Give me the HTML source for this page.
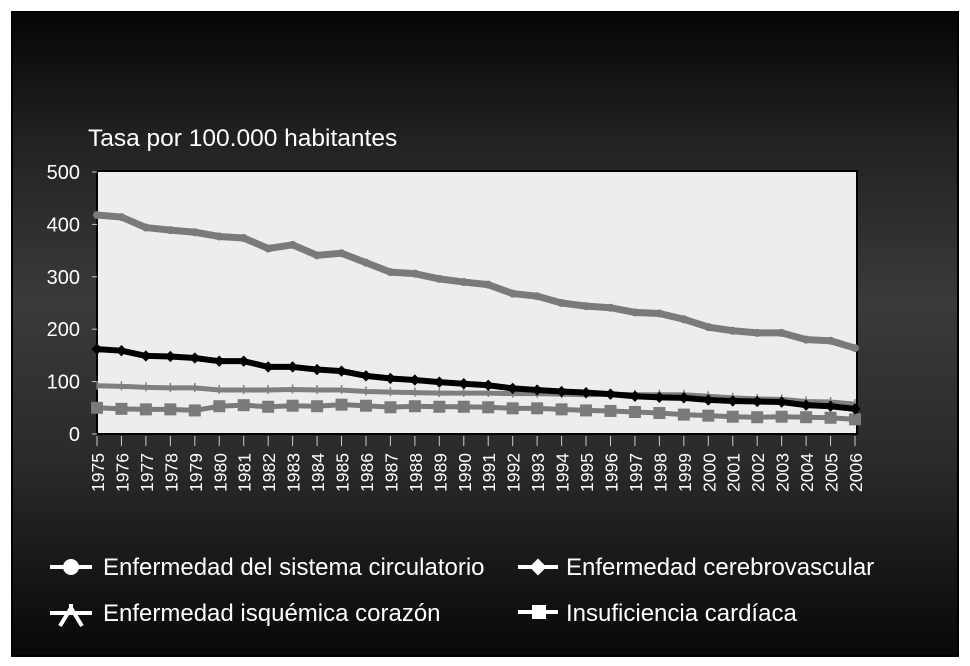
<!DOCTYPE html>
<html><head><meta charset="utf-8"><style>
body{margin:0;background:#fff;}
#wrap{position:relative;width:970px;height:666px;background:#fff;}
svg{position:absolute;left:0;top:0;font-family:"Liberation Sans",sans-serif;}
</style></head><body>
<div id="wrap">
<svg id="chart" width="970" height="666">
<defs>
<linearGradient id="bg" x1="0" y1="0" x2="0" y2="1">
<stop offset="0" stop-color="#050505"/>
<stop offset="0.2" stop-color="#222"/>
<stop offset="0.45" stop-color="#3a3a3a"/>
<stop offset="0.7" stop-color="#2a2a2a"/>
<stop offset="1" stop-color="#080808"/>
</linearGradient>
</defs>
<rect x="12" y="12" width="946" height="644" fill="url(#bg)" stroke="#000" stroke-width="2"/>
<text x="88" y="146" fill="#fff" font-size="24.5">Tasa por 100.000 habitantes</text>
<rect x="97" y="171" width="760" height="263" fill="#ededed" stroke="#000" stroke-width="2"/>
<g id="axes"></g>
<g id="series"></g>
<g id="legend" font-size="24" fill="#fff">
<g>
<line x1="50" y1="567" x2="92" y2="567" stroke="#fff" stroke-width="4"/><circle cx="71" cy="567" r="8" fill="#fff"/>
<text x="103" y="575">Enfermedad del sistema circulatorio</text></g>
<g>
<line x1="518" y1="567" x2="558" y2="567" stroke="#fff" stroke-width="4"/><rect x="532" y="561" width="12" height="12" fill="#fff" transform="rotate(45 538 567)"/>
<text x="566" y="575">Enfermedad cerebrovascular</text></g>
<g>
<line x1="50" y1="613" x2="92" y2="613" stroke="#fff" stroke-width="4"/><path d="M60 626 L71 608 L82 626 M71 604 L71 613" stroke="#fff" stroke-width="4" fill="none"/>
<text x="103" y="621">Enfermedad isquémica corazón</text></g>
<g>
<line x1="518" y1="612" x2="558" y2="612" stroke="#fff" stroke-width="4"/><rect x="532" y="605" width="14" height="14" fill="#fff"/>
<text x="566" y="621">Insuficiencia cardíaca</text></g>
</g>
</svg>
</div>
<script>
const years=[1975,1976,1977,1978,1979,1980,1981,1982,1983,1984,1985,1986,1987,1988,1989,1990,1991,1992,1993,1994,1995,1996,1997,1998,1999,2000,2001,2002,2003,2004,2005,2006];
const yearLabels=["1975","1976","1977","1978","1979","1980","1981","1982","1983","1984","1985","1986","1987","1988","1989","1990","1991","1992","1993","1994","1995","1996","1997","1998","1999","2000","2001","2002","2003","2004","2005","2006"];
const yTicks=[0,100,200,300,400,500];
const circulatorio=[418,414,394,389,385,377,374,354,361,341,345,327,309,306,296,290,285,268,263,250,244,241,232,230,219,204,197,193,193,180,178,164];
const cerebrovascular=[162,159,149,148,145,139,139,128,128,123,120,111,106,103,99,96,93,87,84,81,79,76,72,70,69,65,63,62,61,55,53,48];
const isquemica=[92,91,89,88,88,84,84,84,85,84,84,81,80,79,78,78,78,77,77,76,75,76,75,75,75,72,69,67,66,62,61,57];
const insuficiencia=[50,48,47,47,45,53,55,52,54,53,56,54,51,53,52,52,51,49,49,47,45,44,42,40,37,35,33,32,33,32,31,28];

const NS="http://www.w3.org/2000/svg";
const x0=97,x1=855,yb=434,yt=172;
function xs(i){return x0+(x1-x0)*i/(years.length-1);}
function ys(v){return yb-(yb-yt)*v/500;}
function mk(tag,attrs,parent){const e=document.createElementNS(NS,tag);for(const k in attrs)e.setAttribute(k,attrs[k]);parent.appendChild(e);return e;}
const axes=document.getElementById('axes'),ser=document.getElementById('series');
yTicks.forEach(v=>{
  const t=mk('line',{x1:92,x2:97,y1:ys(v),y2:ys(v),stroke:'#ccc'},axes);
  
  
  const l=mk('text',{x:80,y:ys(v)+7,fill:'#fff','font-size':20,'text-anchor':'end'},axes);
  l.textContent=v;
  
  
});
years.forEach((y,i)=>{
  const t=mk('line',{x1:xs(i),x2:xs(i),y1:436,y2:446,stroke:'#ccc'},axes);
  
  
  const l=mk('text',{x:0,y:0,fill:'#fff','font-size':17.5,'text-anchor':'end',transform:`translate(${xs(i)+7},453) rotate(-90)`},axes);
  l.textContent=yearLabels[i];
  
  
});
function drawLine(data,color,w,name,marker){
  const pts=data.map((v,i)=>xs(i)+','+ys(v)).join(' ');
  const p=mk('polyline',{points:pts,fill:'none',stroke:color,'stroke-width':w,'stroke-linejoin':'round'},ser);
  
  
  data.forEach((v,i)=>{
    let m;
    const cx=xs(i),cy=ys(v);
    if(marker==='circle')m=mk('circle',{cx:cx,cy:cy,r:4,fill:color},ser);
    else if(marker==='diamond')m=mk('rect',{x:cx-4,y:cy-4,width:8,height:8,fill:color,transform:`rotate(45 ${cx} ${cy})`},ser);
    else if(marker==='square')m=mk('rect',{x:cx-6,y:cy-6,width:12,height:12,fill:color},ser);
    else m=mk('line',{x1:cx,x2:cx,y1:cy-5,y2:cy+4,stroke:color,'stroke-width':1.5},ser);
    
    
  });
}
drawLine(circulatorio,'#7a7a7a',7,'circulatorio','circle');
drawLine(isquemica,'#7f7f7f',5,'isquemica','tick');
drawLine(insuficiencia,'#7a7a7a',5,'insuficiencia','square');
drawLine(cerebrovascular,'#000',6,'cerebrovascular','diamond');
</script>
</body></html>
